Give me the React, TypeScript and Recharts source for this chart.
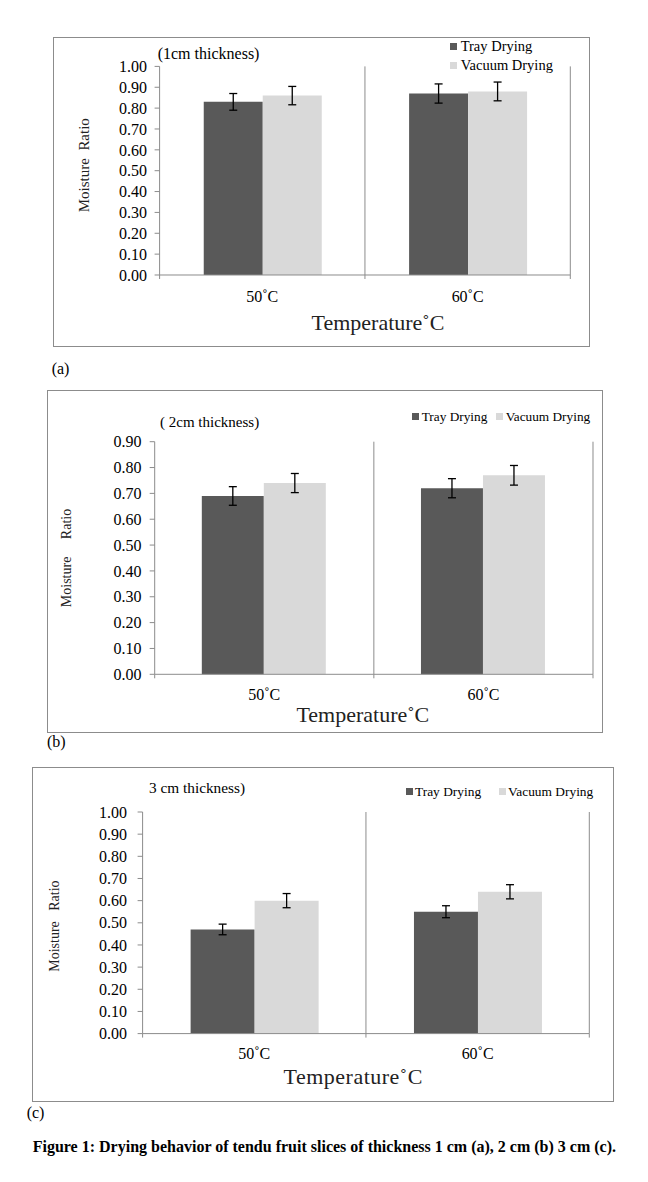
import React from 'react'
import { BarChart, Bar, XAxis, YAxis, CartesianGrid, ErrorBar, Legend } from 'recharts'

// categories shared by the three panels
const temperatures = ['50\u02DAC', '60\u02DAC']

// (a) 1 cm slices
const trayA = [0.83, 0.87]
const trayErrA = [0.04, 0.046]
const vacuumA = [0.86, 0.88]
const vacuumErrA = [0.044, 0.045]
const ticksA = [0, 0.1, 0.2, 0.3, 0.4, 0.5, 0.6, 0.7, 0.8, 0.9, 1.0]

// (b) 2 cm slices
const trayB = [0.69, 0.72]
const trayErrB = [0.036, 0.037]
const vacuumB = [0.74, 0.77]
const vacuumErrB = [0.037, 0.038]
const ticksB = [0, 0.1, 0.2, 0.3, 0.4, 0.5, 0.6, 0.7, 0.8, 0.9]

// (c) 3 cm slices
const trayC = [0.47, 0.55]
const trayErrC = [0.024, 0.027]
const vacuumC = [0.6, 0.64]
const vacuumErrC = [0.032, 0.032]
const ticksC = [0, 0.1, 0.2, 0.3, 0.4, 0.5, 0.6, 0.7, 0.8, 0.9, 1.0]

const SERIF = "'Liberation Serif', 'Times New Roman', serif"
const AXIS = '#8c8c8c'
const TRAY = '#595959'
const VACUUM = '#d9d9d9'

const nb = (n: number) => '\u00A0'.repeat(n)

function XTick(props: any) {
  const { x, y, payload, index, half, labelDy } = props
  return (
    <g>
      {index === 0 && <line x1={x - half} x2={x - half} y1={y} y2={y + 4} stroke={AXIS} />}
      <line x1={x + half} x2={x + half} y1={y} y2={y + 4} stroke={AXIS} />
      <text x={x} y={y + labelDy} textAnchor="middle" dominantBaseline="central" fill="#000" fontSize={16} fontFamily={SERIF}>
        {payload.value}
      </text>
    </g>
  )
}

function Panel({ cfg, tray, trayErr, vacuum, vacuumErr, ticks }: any) {
  const data = temperatures.map((t, i) => ({
    temp: t,
    tray: tray[i],
    trayErr: trayErr[i],
    vacuum: vacuum[i],
    vacuumErr: vacuumErr[i],
  }))
  const { box, yAxisWidth, top, right, xAxisHeight } = cfg
  const plotW = box.width - yAxisWidth - right
  const plotH = box.height - top - xAxisHeight
  const half = plotW / (2 * temperatures.length)
  const lg = cfg.legend

  const renderLegend = (p: any) => (
    <div
      style={{
        display: 'flex',
        flexDirection: lg.vertical ? 'column' : 'row',
        fontFamily: SERIF,
        fontSize: lg.fontSize,
        lineHeight: `${lg.lineHeight}px`,
        color: '#000',
        whiteSpace: 'nowrap',
      }}
    >
      {(p.payload || []).map((e: any, i: number) => (
        <div key={i} style={{ display: 'flex', alignItems: 'center', marginLeft: !lg.vertical && i > 0 ? lg.itemGap : 0 }}>
          <span style={{ width: 7, height: 7, background: e.color, marginRight: lg.sqGap, display: 'inline-block' }} />
          <span>{e.value}</span>
        </div>
      ))}
    </div>
  )

  return (
    <>
      <div
        style={{
          position: 'absolute',
          left: box.left,
          top: box.top,
          width: box.width,
          height: box.height,
          border: `1px solid ${AXIS}`,
          boxSizing: 'border-box',
        }}
      >
        <div style={{ position: 'absolute', left: -1, top: -1 }}>
          <BarChart
            width={box.width}
            height={box.height}
            data={data}
            margin={{ top, right, left: 0, bottom: 0 }}
            barCategoryGap="21.5%"
            barGap={0}
          >
            <CartesianGrid
              horizontal={false}
              vertical
              stroke={AXIS}
              verticalPoints={[yAxisWidth + plotW / 2, yAxisWidth + plotW]}
            />
            <XAxis
              dataKey="temp"
              height={xAxisHeight}
              interval={0}
              axisLine={{ stroke: AXIS }}
              tickLine={false}
              tickSize={0}
              tickMargin={0}
              tick={(p: any) => <XTick {...p} half={half} labelDy={cfg.xTickDy} />}
              label={{
                content: () => (
                  <text
                    x={yAxisWidth + plotW / 2 + cfg.xLabelDx}
                    y={top + plotH + cfg.xLabelDy}
                    textAnchor="middle"
                    dominantBaseline="central"
                    fontFamily={SERIF}
                    fontSize={22}
                    letterSpacing={cfg.xLabelSpacing}
                    fill="#222"
                  >
                    {'Temperature\u02DAC'}
                  </text>
                ),
              }}
            />
            <YAxis
              width={yAxisWidth}
              domain={[0, ticks[ticks.length - 1]]}
              ticks={ticks}
              interval={0}
              tickFormatter={(v: number) => v.toFixed(2)}
              axisLine={{ stroke: AXIS }}
              tickLine={{ stroke: AXIS }}
              tickSize={5}
              tickMargin={cfg.tickMargin}
              tick={{ fill: '#000', fontSize: 16, fontFamily: SERIF }}
              label={{
                content: () => {
                  const lx = cfg.yLabelX
                  const ly = top + plotH / 2 + cfg.yLabelDy
                  return (
                    <text
                      x={lx}
                      y={ly}
                      transform={`rotate(-90, ${lx}, ${ly})`}
                      textAnchor="middle"
                      dominantBaseline="central"
                      fontFamily={SERIF}
                      fontSize={cfg.yLabelSize}
                      fill="#222"
                    >
                      {cfg.yLabel}
                    </text>
                  )
                },
              }}
            />
            <Legend
              layout="vertical"
              align="center"
              verticalAlign="middle"
              wrapperStyle={{ left: lg.left, top: lg.top, width: 'auto', height: 'auto' }}
              content={renderLegend}
            />
            <Bar dataKey="tray" name="Tray Drying" fill={TRAY} isAnimationActive={false}>
              <ErrorBar dataKey="trayErr" width={4} stroke="#000" strokeWidth={1.3} />
            </Bar>
            <Bar dataKey="vacuum" name="Vacuum Drying" fill={VACUUM} isAnimationActive={false}>
              <ErrorBar dataKey="vacuumErr" width={4} stroke="#000" strokeWidth={1.3} />
            </Bar>
          </BarChart>
        </div>
      </div>
      <div
        style={{
          position: 'absolute',
          left: cfg.title.left,
          top: cfg.title.cy - 10,
          lineHeight: '20px',
          fontFamily: SERIF,
          fontSize: cfg.title.size,
          color: '#000',
          whiteSpace: 'nowrap',
        }}
      >
        {cfg.title.text}
      </div>
      <div
        style={{
          position: 'absolute',
          left: cfg.tag.left,
          top: cfg.tag.cy - 10,
          lineHeight: '20px',
          fontFamily: SERIF,
          fontSize: 16,
          color: '#000',
        }}
      >
        {cfg.tag.text}
      </div>
    </>
  )
}

const layoutA = {
  box: { left: 52.7, top: 37.3, width: 537.3, height: 310 },
  yAxisWidth: 106.6,
  top: 29.4,
  right: 20,
  xAxisHeight: 72,
  tickMargin: 7.6,
  xTickDy: 21.4,
  xLabelDx: 13,
  xLabelDy: 47.7,
  xLabelSpacing: 0,
  yLabel: 'Moisture' + nb(2) + 'Ratio',
  yLabelSize: 15,
  yLabelX: 30.6,
  yLabelDy: -5.5,
  title: { text: '(1cm thickness)', left: 157.7, cy: 54, size: 16 },
  tag: { text: '(a)', left: 51.7, cy: 368.8 },
  legend: { vertical: true, left: 397.3, top: -0.3, fontSize: 14.5, lineHeight: 19.3, sqGap: 3.7, itemGap: 0 },
}

const layoutB = {
  box: { left: 47.3, top: 390, width: 556, height: 343.3 },
  yAxisWidth: 107.7,
  top: 51.7,
  right: 10,
  xAxisHeight: 59,
  tickMargin: 8.3,
  xTickDy: 20,
  xLabelDx: -11,
  xLabelDy: 40.7,
  xLabelSpacing: 0,
  yLabel: 'Moisture' + nb(5) + 'Ratio',
  yLabelSize: 14,
  yLabelX: 19.4,
  yLabelDy: 0,
  title: { text: '( 2cm thickness)', left: 160, cy: 422.3, size: 15 },
  tag: { text: '(b)', left: 47, cy: 742 },
  legend: { vertical: false, left: 364.4, top: 17.7, fontSize: 13.3, lineHeight: 18, sqGap: 3, itemGap: 8.3 },
}

const layoutC = {
  box: { left: 31.7, top: 766.7, width: 582.3, height: 335 },
  yAxisWidth: 110.6,
  top: 45,
  right: 25,
  xAxisHeight: 68.4,
  tickMargin: 10.6,
  xTickDy: 20,
  xLabelDx: -12.7,
  xLabelDy: 43.4,
  xLabelSpacing: 0.5,
  yLabel: 'Moisture' + nb(3) + 'Ratio',
  yLabelSize: 14,
  yLabelX: 22.6,
  yLabelDy: 3.3,
  title: { text: '3 cm thickness)', left: 149, cy: 788.3, size: 15.3 },
  tag: { text: '(c)', left: 26.7, cy: 1112.5 },
  legend: { vertical: false, left: 374.3, top: 16, fontSize: 13.4, lineHeight: 18, sqGap: 2, itemGap: 18 },
}

export default function App() {
  return (
    <div style={{ position: 'absolute', left: 0, top: 0, width: 648, height: 1182, background: '#fff' }}>
      <Panel cfg={layoutA} tray={trayA} trayErr={trayErrA} vacuum={vacuumA} vacuumErr={vacuumErrA} ticks={ticksA} />
      <Panel cfg={layoutB} tray={trayB} trayErr={trayErrB} vacuum={vacuumB} vacuumErr={vacuumErrB} ticks={ticksB} />
      <Panel cfg={layoutC} tray={trayC} trayErr={trayErrC} vacuum={vacuumC} vacuumErr={vacuumErrC} ticks={ticksC} />
      <div
        style={{
          position: 'absolute',
          left: 32.7,
          top: 1136.7,
          lineHeight: '20px',
          fontFamily: SERIF,
          fontWeight: 'bold',
          fontSize: 16,
          color: '#000',
          whiteSpace: 'nowrap',
        }}
      >
        Figure 1: Drying behavior of tendu fruit slices of thickness 1 cm (a), 2 cm (b) 3 cm (c).
      </div>
    </div>
  )
}
